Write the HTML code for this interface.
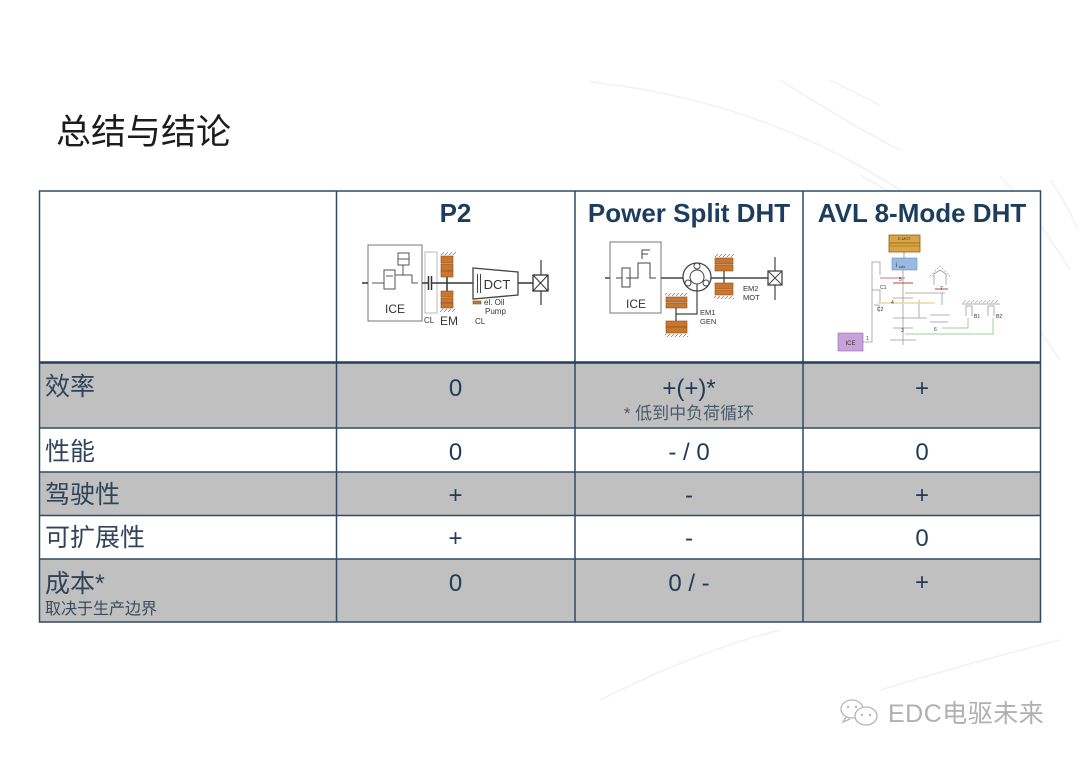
<!DOCTYPE html>
<html>
<head>
<meta charset="utf-8">
<style>
html,body{margin:0;padding:0;background:#fff;}
body{width:1080px;height:763px;overflow:hidden;}
svg{display:block;}
.cj{font-family:"Liberation Sans","Noto Sans CJK SC",sans-serif;}
</style>
</head>
<body>
<svg width="1080" height="763" viewBox="0 0 1080 763" xmlns="http://www.w3.org/2000/svg">
<defs>
  <pattern id="hatch" width="4" height="4" patternUnits="userSpaceOnUse">
    <path d="M0,4 L4,0" stroke="#777" stroke-width="0.7"/>
  </pattern>
</defs>

<!-- faint background arcs -->
<g fill="none" stroke="#f1f1f1" stroke-width="1.5">
  <path d="M590,82 Q760,100 900,190"/>
  <path d="M780,80 Q860,130 900,150"/>
  <path d="M830,80 Q860,95 880,105"/>
  <path d="M860,175 Q980,240 1060,360"/>
  <path d="M1000,176 Q1040,220 1070,270"/>
  <path d="M1050,180 Q1065,200 1078,230"/>
  <path d="M600,700 Q700,650 780,630"/>
  <path d="M880,690 Q980,660 1060,640"/>
</g>

<!-- title -->
<text x="56" y="144" class="cj" font-size="35" fill="#1c1c1c">总结与结论</text>

<!-- table fills -->
<rect x="39.5" y="191" width="1001" height="172" fill="#fff"/>
<rect x="39.5" y="363" width="1001" height="65" fill="#c0c0c0"/>
<rect x="39.5" y="428" width="1001" height="44" fill="#fff"/>
<rect x="39.5" y="472" width="1001" height="43.5" fill="#c0c0c0"/>
<rect x="39.5" y="515.5" width="1001" height="43.5" fill="#fff"/>
<rect x="39.5" y="559" width="1001" height="63" fill="#c0c0c0"/>

<!-- table lines -->
<g stroke="#2e4a66" stroke-width="1.5" fill="none">
  <rect x="39.5" y="191" width="1001" height="431"/>
  <line x1="336.5" y1="191" x2="336.5" y2="622"/>
  <line x1="575" y1="191" x2="575" y2="622"/>
  <line x1="803" y1="191" x2="803" y2="622"/>
  <line x1="39.5" y1="428" x2="1040.5" y2="428"/>
  <line x1="39.5" y1="472" x2="1040.5" y2="472"/>
  <line x1="39.5" y1="515.5" x2="1040.5" y2="515.5"/>
  <line x1="39.5" y1="559" x2="1040.5" y2="559"/>
</g>
<line x1="39.5" y1="362.5" x2="1040.5" y2="362.5" stroke="#1f4260" stroke-width="2.5"/>

<!-- header titles -->
<g font-family="Liberation Sans, sans-serif" font-weight="bold" font-size="26" fill="#1c3d5e" text-anchor="middle">
  <text x="455.5" y="222">P2</text>
  <text x="689" y="222">Power Split DHT</text>
  <text x="922" y="222">AVL 8-Mode DHT</text>
</g>

<!-- P2 diagram -->
<g stroke="#555" stroke-width="1" fill="none">
  <rect x="368" y="245" width="54" height="76" stroke="#777"/>
  <line x1="362" y1="283" x2="368" y2="283" stroke-width="1.5" stroke="#333"/>
  <polyline points="372,283 384,283"/>
  <rect x="384" y="270" width="11" height="19"/>
  <line x1="386" y1="276" x2="393" y2="276"/>
  <polyline points="395,275 403,275 403,265"/>
  <rect x="398" y="253" width="11" height="12"/>
  <line x1="398" y1="259" x2="409" y2="259"/>
  <polyline points="403,275 412,275 412,283 418,283"/>
  <rect x="425" y="252" width="12" height="61" stroke="#bbb"/>
  <line x1="422" y1="283" x2="428" y2="283" stroke="#333" stroke-width="1.5"/>
  <line x1="428.5" y1="276" x2="428.5" y2="290" stroke="#333" stroke-width="1.5"/>
  <line x1="431.5" y1="276" x2="431.5" y2="290" stroke="#333" stroke-width="1.5"/>
  <line x1="431" y1="283" x2="473" y2="283" stroke="#333" stroke-width="1.5"/>
  <line x1="447" y1="276" x2="447" y2="291" stroke="#333" stroke-width="1.5"/>
  <polygon points="473,268 518,272 518,295 473,299" stroke="#444" stroke-width="1.3"/>
  <line x1="477.5" y1="274" x2="477.5" y2="293" stroke="#444"/>
  <line x1="480.5" y1="274" x2="480.5" y2="293" stroke="#444"/>
  <line x1="518" y1="283" x2="533" y2="283" stroke="#333" stroke-width="1.5"/>
  <line x1="541" y1="260" x2="541" y2="305" stroke="#333" stroke-width="1.2"/>
  <rect x="533" y="275" width="15" height="16" fill="#fff" stroke="#333" stroke-width="1.3"/>
  <line x1="533" y1="275" x2="548" y2="291" stroke="#333"/>
  <line x1="548" y1="275" x2="533" y2="291" stroke="#333"/>
</g>
<rect x="440" y="252" width="16" height="3" fill="url(#hatch)"/>
<rect x="440" y="309" width="16" height="3" fill="url(#hatch)"/>
<g fill="#c9762f" stroke="#8a4d18" stroke-width="0.6">
  <rect x="441" y="256" width="12" height="7"/>
  <rect x="441" y="264" width="12" height="7"/>
  <rect x="441" y="271" width="12" height="6"/>
  <rect x="441" y="291" width="12" height="6"/>
  <rect x="441" y="298" width="12" height="5"/>
  <rect x="441" y="303" width="12" height="5"/>
  <rect x="473" y="301" width="8" height="3"/>
</g>
<g font-family="Liberation Sans, sans-serif" fill="#333">
  <text x="395" y="313" font-size="12" text-anchor="middle">ICE</text>
  <text x="497" y="289" font-size="13" text-anchor="middle">DCT</text>
  <text x="424" y="323" font-size="8">CL</text>
  <text x="440" y="325" font-size="12">EM</text>
  <text x="484" y="305" font-size="8">el. Oil</text>
  <text x="485" y="314" font-size="8">Pump</text>
  <text x="475" y="324" font-size="8">CL</text>
</g>

<!-- Power split diagram -->
<g stroke="#444" stroke-width="1" fill="none">
  <rect x="610" y="242" width="51" height="71" stroke="#777"/>
  <line x1="605" y1="278" x2="610" y2="278" stroke-width="1.5"/>
  <polyline points="616,278 622,278 622,268 630,268 630,287 622,287 622,278"/>
  <polyline points="626,278 638,278 638,263 650,263 650,278 656,278"/>
  <polyline points="642,259 642,250 650,250"/>
  <line x1="642" y1="254" x2="648" y2="254"/>
  <line x1="661" y1="278" x2="683" y2="278" stroke-width="1.5"/>
  <circle cx="697" cy="277" r="14" stroke-width="1.3"/>
  <circle cx="697" cy="277" r="7"/>
  <circle cx="697" cy="266" r="3"/>
  <circle cx="688" cy="283" r="3"/>
  <circle cx="706" cy="283" r="3"/>
  <line x1="711" y1="278" x2="768" y2="278" stroke-width="1.5"/>
  <line x1="724" y1="271" x2="724" y2="283" stroke-width="1.3"/>
  <polyline points="697,284 697,314 676,314" stroke-width="1.2"/>
  <line x1="676" y1="308" x2="676" y2="321" stroke-width="1.3"/>
  <line x1="775" y1="257" x2="775" y2="300" stroke-width="1.2"/>
  <rect x="768" y="271" width="14" height="14" fill="#fff" stroke-width="1.3"/>
  <line x1="768" y1="271" x2="782" y2="285"/>
  <line x1="782" y1="271" x2="768" y2="285"/>
</g>
<rect x="714" y="254" width="20" height="3" fill="url(#hatch)"/>
<rect x="714" y="296" width="20" height="3" fill="url(#hatch)"/>
<rect x="665" y="293" width="23" height="3" fill="url(#hatch)"/>
<rect x="665" y="334" width="23" height="3" fill="url(#hatch)"/>
<g fill="#c9762f" stroke="#8a4d18" stroke-width="0.6">
  <rect x="715" y="258" width="18" height="6"/>
  <rect x="715" y="265" width="18" height="6"/>
  <rect x="715" y="283" width="18" height="6"/>
  <rect x="715" y="290" width="18" height="5"/>
  <rect x="666" y="297" width="21" height="5"/>
  <rect x="666" y="303" width="21" height="5"/>
  <rect x="666" y="321" width="21" height="6"/>
  <rect x="666" y="327" width="21" height="6"/>
</g>
<g font-family="Liberation Sans, sans-serif" fill="#333">
  <text x="636" y="308" font-size="12" text-anchor="middle">ICE</text>
  <text x="743" y="291" font-size="7.5">EM2</text>
  <text x="743" y="300" font-size="7.5">MOT</text>
  <text x="700" y="315" font-size="7.5">EM1</text>
  <text x="700" y="324" font-size="7.5">GEN</text>
</g>

<!-- AVL 8-mode diagram -->
<rect x="889" y="235" width="31" height="17" fill="#d9a441" stroke="#8a6020" stroke-width="0.8"/>
<line x1="889" y1="243" x2="920" y2="243" stroke="#8a6020" stroke-width="0.8"/>
<line x1="889" y1="246" x2="920" y2="246" stroke="#8a6020" stroke-width="0.6"/>
<text x="904.5" y="240" font-family="Liberation Sans, sans-serif" font-size="4" fill="#333" text-anchor="middle">E-MOT</text>
<line x1="904" y1="252" x2="904" y2="258" stroke="#888" stroke-width="0.8"/>
<rect x="892" y="258" width="25" height="12" fill="#98b9e3" stroke="#6f8fc0" stroke-width="0.6"/>
<text x="896" y="267" font-family="Liberation Sans, sans-serif" font-size="6" fill="#333">i</text>
<text x="899" y="268" font-family="Liberation Sans, sans-serif" font-size="4" fill="#333">cdx</text>
<rect x="838" y="333" width="25" height="18" fill="#c9a2dc" stroke="#8e6aa8" stroke-width="0.6"/>
<text x="850.5" y="345" font-family="Liberation Sans, sans-serif" font-size="6" fill="#333" text-anchor="middle">ICE</text>
<g fill="none" stroke="#999" stroke-width="0.8">
  <polyline points="863,342 872,342 872,262 880,262 880,275"/>
  <polyline points="872,290 880,290 880,302"/>
  <line x1="903" y1="270" x2="903" y2="345"/>
  <line x1="919" y1="300" x2="919" y2="318"/>
  <line x1="893" y1="298" x2="913" y2="298"/>
  <line x1="893" y1="318" x2="927" y2="318"/>
  <line x1="893" y1="328" x2="913" y2="328"/>
  <line x1="890" y1="340" x2="916" y2="340"/>
  <line x1="905" y1="293" x2="945" y2="293"/>
  <line x1="942" y1="293" x2="942" y2="305"/>
  <polyline points="930,322 948,322"/>
  <line x1="930" y1="315" x2="950" y2="315"/>
  <line x1="962" y1="304" x2="1000" y2="304"/>
  <polyline points="966,316 966,306 972,306 972,316"/>
  <polyline points="988,316 988,306 994,306 994,316"/>
  <polyline points="874,305 879,305 879,312"/>
  <polyline points="934,285 934,274 940,270 946,274 946,285"/>
</g>
<g fill="none" stroke="#999" stroke-width="0.6">
  <path d="M963,303 l3,-3 M967,303 l3,-3 M971,303 l3,-3 M975,303 l3,-3 M979,303 l3,-3 M983,303 l3,-3 M987,303 l3,-3 M991,303 l3,-3 M995,303 l3,-3"/>
  <path d="M934,276 l-4,0 l10,-10 l10,10 l-4,0" stroke-dasharray="2,1.5"/>
</g>
<g fill="none" stroke-width="1">
  <line x1="880" y1="278" x2="905" y2="278" stroke="#c77" />
  <line x1="893" y1="283" x2="913" y2="283" stroke="#b44"/>
  <line x1="935" y1="289" x2="948" y2="289" stroke="#b44"/>
  <line x1="878" y1="303" x2="935" y2="303" stroke="#e6dc9a" stroke-width="1.4"/>
  <polyline points="942,328 968,328 968,318" stroke="#9fcf9f"/>
  <polyline points="905,334 993,334 993,318" stroke="#9fcf9f"/>
</g>
<g font-family="Liberation Sans, sans-serif" font-size="5" fill="#333">
  <text x="880" y="289">C1</text>
  <text x="877" y="311">C2</text>
  <text x="899" y="281">5</text>
  <text x="891" y="304">4</text>
  <text x="940" y="290">7</text>
  <text x="934" y="331">6</text>
  <text x="901" y="332">3</text>
  <text x="866" y="340">1</text>
  <text x="974" y="318">B1</text>
  <text x="996" y="318">B2</text>
</g>

<!-- row labels -->
<g class="cj" font-size="25" fill="#2f4459">
  <text x="45" y="395">效率</text>
  <text x="45" y="460">性能</text>
  <text x="45" y="503">驾驶性</text>
  <text x="45" y="546">可扩展性</text>
  <text x="45" y="592">成本*</text>
</g>
<text x="45" y="614" class="cj" font-size="16" fill="#3a4c5e">取决于生产边界</text>

<!-- values -->
<g font-family="Liberation Sans, sans-serif" font-size="24" fill="#1f3b57" text-anchor="middle">
  <text x="455.5" y="396">0</text>
  <text x="689" y="396">+(+)*</text>
  <text x="922" y="396">+</text>
  <text x="455.5" y="460">0</text>
  <text x="689" y="460">- / 0</text>
  <text x="922" y="460">0</text>
  <text x="455.5" y="503">+</text>
  <text x="689" y="503">-</text>
  <text x="922" y="503">+</text>
  <text x="455.5" y="546">+</text>
  <text x="689" y="546">-</text>
  <text x="922" y="546">0</text>
  <text x="455.5" y="591">0</text>
  <text x="689" y="591">0 / -</text>
  <text x="922" y="590">+</text>
</g>
<text x="689" y="419" class="cj" font-size="17" fill="#4a5a6a" text-anchor="middle">* 低到中负荷循环</text>

<!-- watermark -->
<g fill="none" stroke="#b5b5b5" stroke-width="1.3">
  <ellipse cx="852" cy="709" rx="11" ry="9"/>
  <ellipse cx="866" cy="716" rx="11" ry="9" fill="#fff"/>
  <path d="M846,717 l-3,5 l7,-3"/>
</g>
<g fill="#b5b5b5">
  <circle cx="848" cy="707" r="1.2"/><circle cx="856" cy="707" r="1.2"/>
  <circle cx="862" cy="715" r="1.2"/><circle cx="870" cy="715" r="1.2"/>
</g>
<text x="888" y="722" class="cj" font-size="25" fill="#b0b0b0" letter-spacing="0.5">EDC电驱未来</text>
</svg>
</body>
</html>
